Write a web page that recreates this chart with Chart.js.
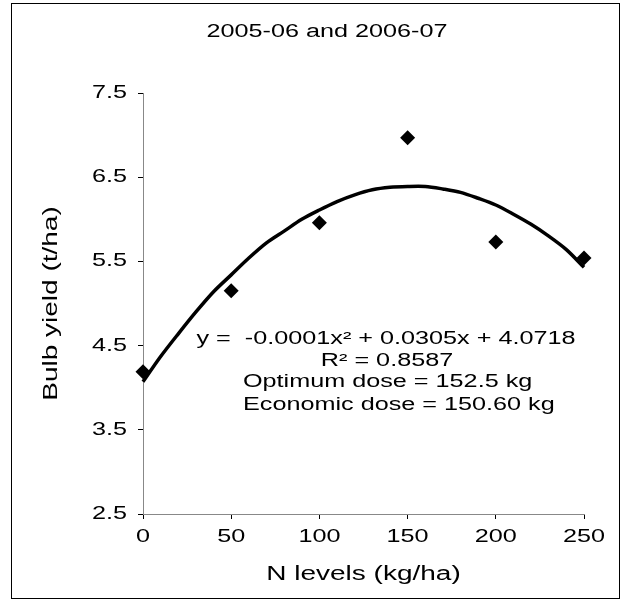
<!DOCTYPE html>
<html>
<head>
<meta charset="utf-8">
<script src="https://cdn.jsdelivr.net/npm/chart.js@4/dist/chart.umd.min.js"></script>
<style>
html,body{margin:0;padding:0;background:#fff;}
#wrap{width:629px;height:607px;position:relative;}
canvas{display:block;}
</style>
</head>
<body>
<div id="wrap"><canvas id="c" width="629" height="607"></canvas></div>
<script>
// ---- data ----
const chartTitle = "2005-06 and 2006-07";
const xAxisTitle = "N levels (kg/ha)";
const yAxisTitle = "Bulb yield (t/ha)";
const nLevels = [0, 50, 100, 150, 200, 250];
const bulbYield = [4.19, 5.15, 5.96, 6.97, 5.73, 5.54];
const trendX = [0, 10, 20, 30, 40, 50, 60, 70, 80, 90, 100, 110, 120, 130, 140, 150, 160, 170, 180, 190, 200, 210, 220, 230, 240, 250];
const trendY = [4.07, 4.37, 4.64, 4.90, 5.14, 5.34, 5.54, 5.72, 5.86, 6.00, 6.11, 6.21, 6.29, 6.35, 6.38, 6.39, 6.39, 6.36, 6.32, 6.25, 6.17, 6.06, 5.94, 5.80, 5.64, 5.43];
const xTicks = [0, 50, 100, 150, 200, 250];
const yTicks = [2.5, 3.5, 4.5, 5.5, 6.5, 7.5];
const equationLines = ["y =  -0.0001x\u00B2 + 0.0305x + 4.0718", "R\u00B2 = 0.8587"];
const doseLines = ["Optimum dose = 152.5 kg", "Economic dose = 150.60 kg"];

// ---- wide text rendering (reference font is horizontally stretched) ----
const SX = 1.4;
const origFillText = CanvasRenderingContext2D.prototype.fillText;
CanvasRenderingContext2D.prototype.fillText = function (text, x, y) {
  this.save();
  this.translate(x, y);
  this.scale(SX, 1);
  origFillText.call(this, text, 0, 0);
  this.restore();
};

const FONT = '"Liberation Sans", Arial, sans-serif';

const decorPlugin = {
  id: 'decor',
  afterDraw(chart) {
    const ctx = chart.ctx;
    ctx.save();
    ctx.strokeStyle = '#000';
    ctx.lineWidth = 1;
    ctx.strokeRect(11.5, 3.5, 608, 595);
    ctx.fillStyle = '#000';
    ctx.textBaseline = 'middle';
    ctx.font = '18px ' + FONT;
    ctx.textAlign = 'center';
    ctx.fillText(chartTitle, 327, 32);
    ctx.fillText(equationLines[0], 386, 339);
    ctx.fillText(equationLines[1], 387, 361);
    ctx.textAlign = 'left';
    ctx.fillText(doseLines[0], 243, 382);
    ctx.fillText(doseLines[1], 243, 405);
    ctx.restore();
  }
};

Chart.defaults.font.family = FONT;
Chart.defaults.color = '#000';

new Chart(document.getElementById('c'), {
  type: 'scatter',
  data: {
    datasets: [
      {
        label: 'Trend',
        data: trendX.map((x, i) => ({ x: x, y: trendY[i] })),
        showLine: true,
        borderColor: '#000',
        borderWidth: 3.5,
        pointRadius: 0,
        tension: 0.3,
        fill: false,
        clip: false
      },
      {
        label: 'Observed',
        data: nLevels.map((x, i) => ({ x: x, y: bulbYield[i] })),
        pointStyle: 'rectRot',
        pointRadius: 7.5,
        pointHoverRadius: 7.5,
        backgroundColor: '#000',
        borderColor: '#000',
        borderWidth: 0,
        showLine: false,
        clip: false
      }
    ]
  },
  options: {
    responsive: false,
    animation: false,
    devicePixelRatio: 1,
    layout: { padding: { top: 93, right: 45, bottom: 0, left: 0 } },
    plugins: {
      legend: { display: false },
      title: { display: false },
      tooltip: { enabled: false }
    },
    scales: {
      x: {
        type: 'linear',
        min: 0,
        max: 250,
        afterBuildTicks: (axis) => { axis.ticks = xTicks.map(v => ({ value: v })); },
        afterFit: (axis) => { axis.height = 93; },
        ticks: {
          font: { size: 18 },
          color: '#000',
          padding: 7,
          maxRotation: 0,
          autoSkip: false,
          callback: (v) => String(v)
        },
        grid: { display: true, drawOnChartArea: false, drawTicks: true, tickLength: 5, color: '#000' },
        border: { display: true, color: '#888', width: 1 },
        title: {
          display: true,
          text: xAxisTitle,
          font: { size: 20 },
          color: '#000',
          padding: { top: 0, bottom: 21 }
        }
      },
      y: {
        type: 'linear',
        min: 2.5,
        max: 7.5,
        afterBuildTicks: (axis) => { axis.ticks = yTicks.map(v => ({ value: v })); },
        afterFit: (axis) => { axis.width = 143; },
        ticks: {
          font: { size: 18 },
          color: '#000',
          padding: 11,
          callback: (v) => Number(v).toFixed(1)
        },
        grid: { display: true, drawOnChartArea: false, drawTicks: true, tickLength: 5, color: '#000' },
        border: { display: true, color: '#888', width: 1 },
        title: {
          display: true,
          text: yAxisTitle,
          font: { size: 20 },
          color: '#000',
          padding: { top: 39, bottom: 0 }
        }
      }
    }
  },
  plugins: [decorPlugin]
});
</script>
</body>
</html>
